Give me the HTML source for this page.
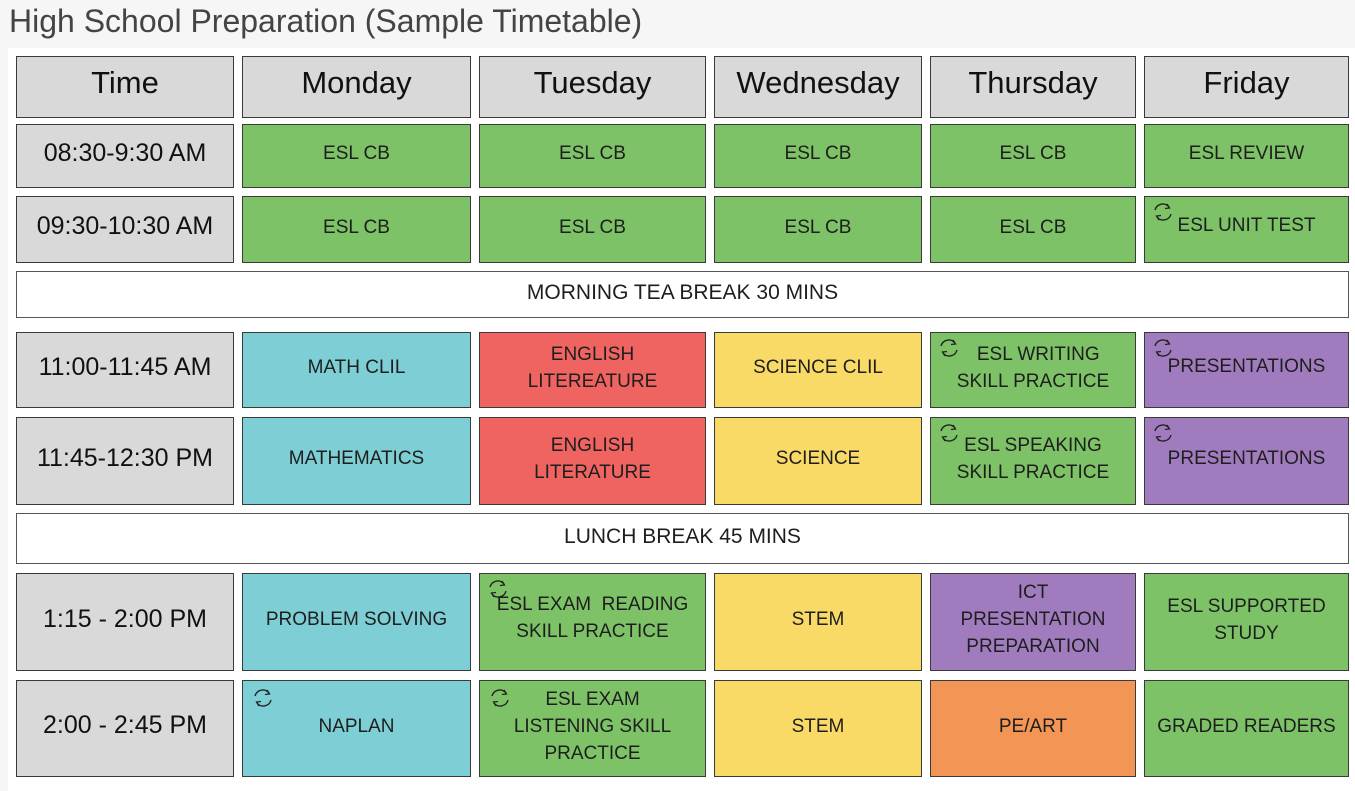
<!DOCTYPE html>
<html><head><meta charset="utf-8"><style>
body{margin:0;width:1355px;height:791px;background:#f6f6f6;font-family:"Liberation Sans",Arial,sans-serif;position:relative;overflow:hidden}
.t{position:absolute;left:9px;top:3px;font-size:32px;color:#444}
.wb{position:absolute;left:8px;top:48px;width:1347px;height:743px;background:#fff}
.c{position:absolute;box-sizing:border-box;border:1.5px solid #3a3a3a;display:flex;align-items:center;justify-content:center;text-align:center;font-size:19px;line-height:27px;color:#1e1e1e;padding-bottom:5px}
.h{background:#d9d9d9;font-size:31px;color:#111;padding-bottom:10px}
.tm{background:#d9d9d9;font-size:25px;color:#111;padding-bottom:6px}
.g{background:#7dc266}.b{background:#7ecfd5}.r{background:#ef6461}.y{background:#f9da66}.p{background:#a07cbf}.o{background:#f39555}
.w{background:#fff;border-color:#555;font-size:21px}
.i{position:absolute;left:7px;top:4px;width:22px;height:22px}
</style></head><body>
<div class="t">High School Preparation (Sample Timetable)</div>
<div class="wb"></div>
<svg width="0" height="0" style="position:absolute"><defs><g id="ic"><path d="M3 9 A8 8 0 0 1 17 6" fill="none" stroke="#222" stroke-width="1.4"/><path d="M19 13 A8 8 0 0 1 5 16" fill="none" stroke="#222" stroke-width="1.4"/><path d="M15 3 L17.5 7 L13 7.5" fill="none" stroke="#222" stroke-width="1.3"/><path d="M7 19 L4.5 15 L9 14.5" fill="none" stroke="#222" stroke-width="1.3"/></g></defs></svg>

<div class="c h" style="left:16px;top:56px;width:218px;height:62px">Time</div>
<div class="c h" style="left:242px;top:56px;width:229px;height:62px">Monday</div>
<div class="c h" style="left:479px;top:56px;width:227px;height:62px">Tuesday</div>
<div class="c h" style="left:714px;top:56px;width:208px;height:62px">Wednesday</div>
<div class="c h" style="left:930px;top:56px;width:206px;height:62px">Thursday</div>
<div class="c h" style="left:1144px;top:56px;width:205px;height:62px">Friday</div>

<div class="c tm" style="left:16px;top:124px;width:218px;height:64px">08:30-9:30 AM</div>
<div class="c g" style="left:242px;top:124px;width:229px;height:64px">ESL CB</div>
<div class="c g" style="left:479px;top:124px;width:227px;height:64px">ESL CB</div>
<div class="c g" style="left:714px;top:124px;width:208px;height:64px">ESL CB</div>
<div class="c g" style="left:930px;top:124px;width:206px;height:64px">ESL CB</div>
<div class="c g" style="left:1144px;top:124px;width:205px;height:64px">ESL REVIEW</div>

<div class="c tm" style="left:16px;top:196px;width:218px;height:67px">09:30-10:30 AM</div>
<div class="c g" style="left:242px;top:196px;width:229px;height:67px">ESL CB</div>
<div class="c g" style="left:479px;top:196px;width:227px;height:67px">ESL CB</div>
<div class="c g" style="left:714px;top:196px;width:208px;height:67px">ESL CB</div>
<div class="c g" style="left:930px;top:196px;width:206px;height:67px">ESL CB</div>
<div class="c g" style="left:1144px;top:196px;width:205px;height:67px;padding-bottom:8px"><svg class="i"><use href="#ic"/></svg>ESL UNIT TEST</div>

<div class="c w" style="left:16px;top:271px;width:1333px;height:47px">MORNING TEA BREAK 30 MINS</div>

<div class="c tm" style="left:16px;top:332px;width:218px;height:76px">11:00-11:45 AM</div>
<div class="c b" style="left:242px;top:332px;width:229px;height:76px">MATH CLIL</div>
<div class="c r" style="left:479px;top:332px;width:227px;height:76px">ENGLISH<br>LITEREATURE</div>
<div class="c y" style="left:714px;top:332px;width:208px;height:76px">SCIENCE CLIL</div>
<div class="c g" style="left:930px;top:332px;width:206px;height:76px"><svg class="i"><use href="#ic"/></svg>&nbsp;&nbsp;ESL WRITING<br>SKILL PRACTICE</div>
<div class="c p" style="left:1144px;top:332px;width:205px;height:76px;padding-bottom:8px"><svg class="i"><use href="#ic"/></svg>PRESENTATIONS</div>

<div class="c tm" style="left:16px;top:417px;width:218px;height:88px">11:45-12:30 PM</div>
<div class="c b" style="left:242px;top:417px;width:229px;height:88px">MATHEMATICS</div>
<div class="c r" style="left:479px;top:417px;width:227px;height:88px">ENGLISH<br>LITERATURE</div>
<div class="c y" style="left:714px;top:417px;width:208px;height:88px">SCIENCE</div>
<div class="c g" style="left:930px;top:417px;width:206px;height:88px"><svg class="i"><use href="#ic"/></svg>ESL SPEAKING<br>SKILL PRACTICE</div>
<div class="c p" style="left:1144px;top:417px;width:205px;height:88px"><svg class="i"><use href="#ic"/></svg>PRESENTATIONS</div>

<div class="c w" style="left:16px;top:513px;width:1333px;height:51px">LUNCH BREAK 45 MINS</div>

<div class="c tm" style="left:16px;top:573px;width:218px;height:98px">1:15 - 2:00 PM</div>
<div class="c b" style="left:242px;top:573px;width:229px;height:98px">PROBLEM SOLVING</div>
<div class="c g" style="left:479px;top:573px;width:227px;height:98px;padding-bottom:8px"><svg class="i"><use href="#ic"/></svg>ESL EXAM&nbsp; READING<br>SKILL PRACTICE</div>
<div class="c y" style="left:714px;top:573px;width:208px;height:98px">STEM</div>
<div class="c p" style="left:930px;top:573px;width:206px;height:98px">ICT<br>PRESENTATION<br>PREPARATION</div>
<div class="c g" style="left:1144px;top:573px;width:205px;height:98px">ESL SUPPORTED<br>STUDY</div>

<div class="c tm" style="left:16px;top:680px;width:218px;height:97px">2:00 - 2:45 PM</div>
<div class="c b" style="left:242px;top:680px;width:229px;height:97px"><svg class="i" style="left:9px;top:6px"><use href="#ic"/></svg>NAPLAN</div>
<div class="c g" style="left:479px;top:680px;width:227px;height:97px"><svg class="i" style="left:9px;top:6px"><use href="#ic"/></svg>ESL EXAM<br>LISTENING SKILL<br>PRACTICE</div>
<div class="c y" style="left:714px;top:680px;width:208px;height:97px">STEM</div>
<div class="c o" style="left:930px;top:680px;width:206px;height:97px">PE/ART</div>
<div class="c g" style="left:1144px;top:680px;width:205px;height:97px">GRADED READERS</div>
</body></html>
